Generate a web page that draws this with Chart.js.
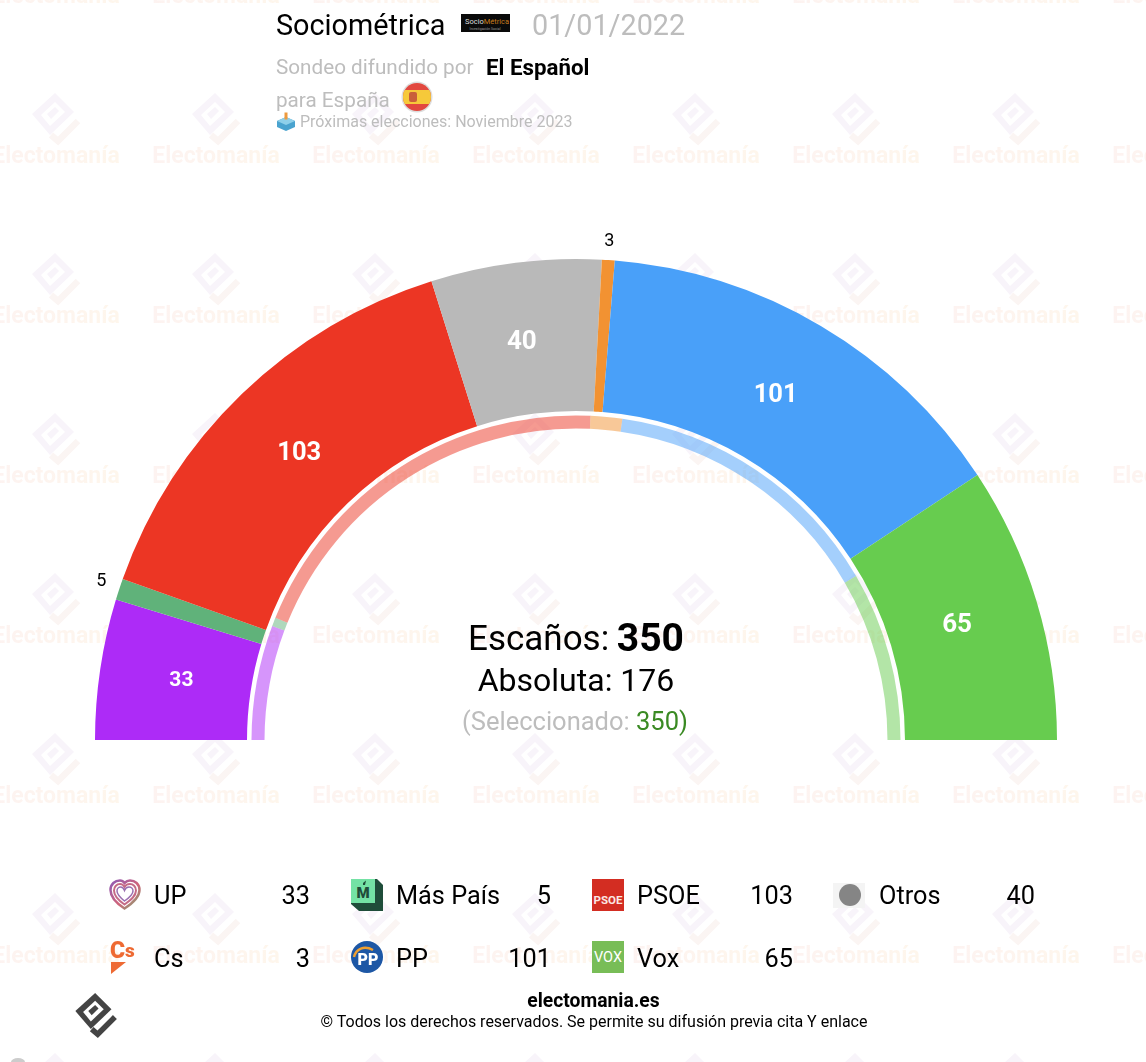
<!DOCTYPE html>
<html lang="es">
<head>
<meta charset="utf-8">
<title>Sociométrica 01/01/2022</title>
<style>
html,body{margin:0;padding:0;background:#fff;width:1146px;height:1062px;overflow:hidden;font-family:Roboto,sans-serif}
#wm,#ui{position:absolute;left:0;top:0;width:1146px;height:1062px;overflow:hidden}
#chart{position:absolute;left:0;top:0}
.t{position:absolute;white-space:nowrap;line-height:1;transform:translateY(-50%)}
.r{transform:translate(-100%,-50%)}
.c{transform:translate(-50%,-50%)}
.g{color:#bdbdbd}
.wt{position:absolute;white-space:nowrap;font:700 23px Roboto,sans-serif;line-height:1;transform:translate(-50%,-50%);
 background:linear-gradient(90deg,#fdf3f1,#fef6ec);-webkit-background-clip:text;background-clip:text;color:transparent;filter:blur(.4px)}
svg{position:absolute;overflow:visible}
</style>
<script src="https://cdn.jsdelivr.net/npm/chart.js@4/dist/chart.umd.min.js"></script>
</head>
<body>
<div id="wm"></div>
<canvas id="chart" width="1146" height="1062"></canvas>
<div id="ui"></div>
<script>
const parties = ['UP','Más País','PSOE','Otros','Cs','PP','Vox'];
const seats = [33,5,103,40,3,101,65];
const partyColors = ['#AD2BF7','#60B27A','#EC3624','#B9B9B9','#F29232','#49A0F9','#67CC4F'];
const previousParties = ['UP','Más País','PSOE','Cs','PP','Vox'];
const previousSeats = [40,3,137,11,100,59];
const previousColors = ['rgba(173,43,247,.5)','rgba(96,178,122,.5)','rgba(236,54,36,.5)','rgba(242,146,50,.5)','rgba(73,160,249,.5)','rgba(103,204,79,.5)'];
const totalSeats = 350;
const majority = 176;
const selected = 350;

const labelNudgeX = [1,1,1,-4,-0.5,-4,-2];
const labelNudgeY = [-1,-3,0,-2,0,-1,0];
const sliceLabels = {
  id:'sliceLabels',
  afterDatasetsDraw(chart){
    const ctx = chart.ctx, arcs = chart.getDatasetMeta(0).data;
    ctx.save();
    ctx.textAlign='center'; ctx.textBaseline='middle';
    arcs.forEach((arc,i)=>{
      const v = seats[i], mid=(arc.startAngle+arc.endAngle)/2, small=v<10;
      const r = small ? 501 : 400;
      ctx.fillStyle = small ? '#000' : '#fff';
      ctx.font = small ? '400 18px Roboto' : (v<40 ? '700 21px Roboto' : (v<100 ? '700 26px Roboto' : '700 25.5px Roboto'));
      ctx.fillText(String(v), arc.x+Math.cos(mid)*r+labelNudgeX[i], arc.y+Math.sin(mid)*r+1+labelNudgeY[i]);
    });
    ctx.restore();
  }
};

new Chart(document.getElementById('chart'),{
  type:'doughnut',
  data:{labels:parties,datasets:[
    {data:seats,backgroundColor:partyColors,borderWidth:0,weight:152},
    {data:[totalSeats],backgroundColor:['rgba(0,0,0,0)'],borderWidth:0,weight:4.5},
    {data:previousSeats,backgroundColor:previousColors,borderWidth:0,weight:13}
  ]},
  options:{
    responsive:false,animation:false,
    rotation:-90,circumference:180,cutout:'64.76%',
    events:[],
    layout:{padding:{left:95,right:89,top:259,bottom:322}},
    plugins:{legend:{display:false},tooltip:{enabled:false}}
  },
  plugins:[sliceLabels]
});

/* watermark */
const logo=(a,b,hole)=>`<polygon points="23,0 42,19 18,42 0,21" fill="${a}"/><polygon points="23,9 33,19 18,33 9,22" fill="${hole}"/><polygon points="15,21 23,14 27,18 19,26" fill="${a}"/><polyline points="19,42 26,48 46,28" fill="none" stroke="${b}" stroke-width="6.5"/>`;
const wm=document.getElementById('wm');
let h='';
for(let y=-42;y<1100;y+=160){for(let x=56;x<1200;x+=160){
  h+=`<svg style="left:${x-24}px;top:${y-25}px;filter:blur(.4px)" width="48" height="50" viewBox="0 0 48 50">${logo('#f8f4fa','#fbf5f3','#fff')}</svg>`;
  h+=`<div class="wt" style="left:${x}px;top:${y+37}px">Electomanía</div>`;
}}
wm.innerHTML=h;

/* header, centre text, legend */
const ui=document.getElementById('ui');
const T=(x,y,size,html,cls='',extra='')=>`<div class="t ${cls}" style="left:${x}px;top:${y}px;font-size:${size}px;${extra}">${html}</div>`;
const icons=[
`<svg style="left:109px;top:879px" width="32" height="32" viewBox="0 0 32 32"><defs><linearGradient id="hg" x1="0" y1="0" x2="1" y2="1"><stop offset="0" stop-color="#8f5bb5"/><stop offset=".55" stop-color="#d0637a"/><stop offset="1" stop-color="#7fa86f"/></linearGradient></defs><path d="M15.5 29.500C7 24 1.500 18 1.500 11 1.500 5 6 1.500 11 1.500c2 0 3.500 1 4.500 2.500C17 2.500 19 1.500 21 1.500c5 0 9.500 3.500 9.500 9.500 0 7-6.500 13-15 18.500z" fill="none" stroke="url(#hg)" stroke-width="2.500"/><path d="M15.500 25.500C9 21 5 17 5 11.500 5 7.500 8 5 11 5c2 0 3.500 1 4.500 3 1-2 3-3 5.500-3 3 0 6 2.500 6 6.500 0 5.500-5 9.500-11.500 14z" fill="none" stroke="#c56b86" stroke-width="2"/><path d="M15.500 22C10.500 18 8 15.500 8 12c0-2.500 2-4 3.500-4 2 0 3 1 4 3.500 1-2.500 2.500-3.500 4.500-3.500 2 0 4 1.500 4 4 0 3.500-3.500 6.500-8.500 10z" fill="none" stroke="#9a6fb0" stroke-width="1.500"/></svg>`,
`<svg style="left:351px;top:879px" width="32" height="32" viewBox="0 0 32 32"><polygon points="0,0 26,0 32,6 32,32 8,32 0,25" fill="#1f4d3a"/><rect x="0" y="0" width="24" height="24" fill="#74e2a5"/><text x="12" y="19" text-anchor="middle" font-family="Roboto" font-weight="900" font-size="15" fill="#1f4d3a">M</text><polygon points="12,4 15,1.500 14,6 12,6" fill="#1f4d3a"/></svg>`,
`<svg style="left:592px;top:879px" width="32" height="32" viewBox="0 0 32 32"><rect width="32" height="32" fill="#d32d22"/><text x="16" y="25" text-anchor="middle" font-family="Roboto" font-weight="700" font-size="11.500" fill="#fbe7e4">PSOE</text></svg>`,
`<svg style="left:833px;top:883px" width="32" height="25" viewBox="0 0 32 25"><rect width="32" height="25" fill="#f4f4f4"/><circle cx="17" cy="12" r="11" fill="#858585"/></svg>`,
`<svg style="left:110px;top:941px" width="32" height="34" viewBox="0 0 32 34"><text x="0" y="17" font-family="Roboto" font-weight="900" font-size="23" fill="#ee6a33">C</text><text x="15" y="16" font-family="Roboto" font-weight="900" font-size="19" fill="#ee6a33">s</text><polygon points="1,21 16,21 1,33" fill="#ee6a33"/></svg>`,
`<svg style="left:351px;top:941px" width="32" height="32" viewBox="0 0 32 32"><circle cx="16" cy="16" r="16" fill="#1d57a5"/><path d="M3 16C5 8 13 4 22 9" fill="none" stroke="#f0a030" stroke-width="2.500"/><text x="17" y="24" text-anchor="middle" font-family="Roboto" font-weight="900" font-size="16" fill="#fff">PP</text></svg>`,
`<svg style="left:592px;top:941px" width="32" height="32" viewBox="0 0 32 32"><rect width="32" height="32" fill="#78bd57"/><text x="16" y="21" text-anchor="middle" font-family="Roboto" font-weight="400" font-size="14.500" fill="#fff">VOX</text></svg>`,
`<svg style="left:461px;top:14px" width="49" height="18" viewBox="0 0 49 18"><rect width="49" height="18" fill="#0a0a0a"/><text x="4" y="9.500" font-family="Roboto" font-size="7.500" fill="#ddd">Socio<tspan fill="#c77a1c">Métrica</tspan></text><text x="24" y="15.500" text-anchor="middle" font-family="Roboto" font-size="3.500" fill="#999">Investigación Social</text></svg>`,
`<svg style="left:401px;top:81px" width="32" height="32" viewBox="0 0 32 32"><defs><clipPath id="fc"><circle cx="16" cy="16" r="14"/></clipPath></defs><circle cx="16" cy="16" r="15.500" fill="#ddd"/><g clip-path="url(#fc)"><rect width="32" height="32" fill="#e2483f"/><rect y="9" width="32" height="14" fill="#f6c93a"/><rect x="8" y="11" width="8" height="10" rx="2" fill="#c9603a"/></g></svg>`,
`<svg style="left:277px;top:112px" width="18" height="19" viewBox="0 0 18 19"><polygon points="9,5 18,9 18,15 9,19 0,15 0,9" fill="#4aa3cf"/><polygon points="0,9 9,13 18,9 9,5" fill="#8fd0ea"/><rect x="7.500" y="0.500" width="3" height="7" fill="#ee9a3c"/></svg>`,
`<svg style="left:75px;top:993px" width="42" height="43" viewBox="0 0 48 50">${logo('#444','#444','#fff')}</svg>`,
`<svg style="left:10px;top:1056px" width="16" height="6" viewBox="0 0 16 6"><ellipse cx="8" cy="6" rx="7" ry="4" fill="#ccc"/></svg>`
].join('');

ui.innerHTML = icons
 + T(276,25,28.8,'Sociométrica','', 'color:#000')
 + T(532,25,28.8,'01/01/2022','g')
 + T(276,67,20.7,'Sondeo difundido por','g')
 + T(486,67,22.3,'El Español','', 'font-weight:700;color:#000')
 + T(276,100,20.7,'para España','g')
 + T(300,122,16,'Próximas elecciones: Noviembre 2023','g')
 + T(468,638,35,'Escaños:','', 'color:#000')
 + T(684,638,39,`${totalSeats}`,'r','font-weight:700;color:#000')
 + T(576,680,32,`Absoluta: ${majority}`,'c','color:#000')
 + T(575,722,25.5,`(Seleccionado: <span style="color:#3a8a23">${selected})</span>`,'c g')
 + [0,1,2,3,4,5,6].map(i=>{
     const col = i<4?i:i-4, y = i<4?896:959;
     const nameX=[154,396,637,879][col], valX=[310,551,793,1035][col];
     return T(nameX,y,25.3,parties[i],'','color:#000') + T(valX,y,25.3,seats[i],'r','color:#000');
   }).join('')
 + T(593.500,1001,19.300,'electomania.es','c','font-weight:700;color:#000')
 + T(594,1022,16,'© Todos los derechos reservados. Se permite su difusión previa cita Y enlace','c','color:#000');
</script>
</body>
</html>
